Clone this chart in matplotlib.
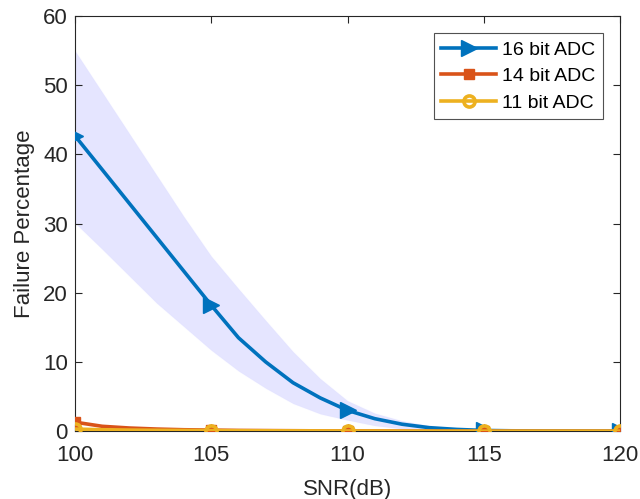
import matplotlib
matplotlib.use("Agg")
import matplotlib.pyplot as plt
import numpy as np

plt.rcParams['font.family'] = ['Liberation Sans', 'DejaVu Sans']

snr = list(range(100, 121))
adc16 = [42.7, 37.8, 32.9, 28.0, 23.1, 18.2, 13.5, 10.0, 7.0, 4.8, 3.0,
         1.8, 1.0, 0.5, 0.25, 0.1, 0.05, 0.03, 0.02, 0.01, 0.0]
adc16_upper = [55.0, 49.0, 43.0, 37.0, 31.0, 25.3, 20.6, 16.0, 11.5, 7.6, 4.4,
               2.6, 1.5, 0.8, 0.4, 0.2, 0.1, 0.05, 0.03, 0.02, 0.0]
adc16_lower = [30.1, 26.3, 22.4, 18.5, 15.1, 11.7, 8.7, 6.2, 4.0, 2.5, 1.6,
               0.8, 0.35, 0.12, 0.05, 0.0, 0.0, 0.0, 0.0, 0.0, 0.0]
adc14 = [1.3, 0.7, 0.45, 0.3, 0.2, 0.15, 0.1, 0.08, 0.06, 0.04, 0.03,
         0.02, 0.01, 0.0, 0.0, 0.0, 0.0, 0.0, 0.0, 0.0, 0.0]
adc11 = [0.3, 0.2, 0.15, 0.12, 0.1, 0.08, 0.06, 0.05, 0.04, 0.03, 0.02,
         0.01, 0.0, 0.0, 0.0, 0.0, 0.0, 0.0, 0.0, 0.0, 0.0]
labels = ['16 bit ADC', '14 bit ADC', '11 bit ADC']
xticks = [100, 105, 110, 115, 120]
yticks = [0, 10, 20, 30, 40, 50, 60]

fig = plt.figure(figsize=(6.4, 4.99), dpi=100)
ax = fig.add_axes([0.117, 0.136, 0.852, 0.832])

ax.fill_between(snr, adc16_lower, adc16_upper, color=(0.0, 0.0, 1.0), alpha=0.1,
                linewidth=0.8, edgecolor=(0.85, 0.85, 1.0))
ax.plot(snr, adc16, color='#0072BD', lw=2.6, marker='>', ms=11, markevery=5,
        label=labels[0], zorder=3)
ax.plot(snr, adc14, color='#D95319', lw=2.6, marker='s', ms=7, markevery=5,
        label=labels[1], zorder=4)
ax.plot(snr, adc11, color='#EDB120', lw=2.6, marker='o', ms=8, markevery=5,
        mfc='none', mew=2.6, label=labels[2], zorder=5)

ax.set_xlim(100, 120)
ax.set_ylim(0, 60)
ax.set_xticks(xticks)
ax.set_yticks(yticks)
ax.tick_params(direction='in', length=5, width=0.8, labelsize=16,
               colors='#262626', top=True, right=True)
ax.tick_params(axis='x', labeltop=False, pad=10)
ax.tick_params(axis='y', pad=5)
for s in ax.spines.values():
    s.set_color('#262626')
    s.set_linewidth(0.8)
ax.set_xlabel('SNR(dB)', fontsize=16, color='#262626', labelpad=9)
ax.set_ylabel('Failure Percentage', fontsize=16, color='#262626', labelpad=6)

leg = ax.legend(loc='upper right', fontsize=14, frameon=True, fancybox=False,
                edgecolor='#262626', handlelength=2.8, borderaxespad=0.9,
                labelspacing=0.45, handletextpad=0.3, borderpad=0.4)
leg.get_frame().set_linewidth(0.8)

fig.savefig('out.png', dpi=100)
